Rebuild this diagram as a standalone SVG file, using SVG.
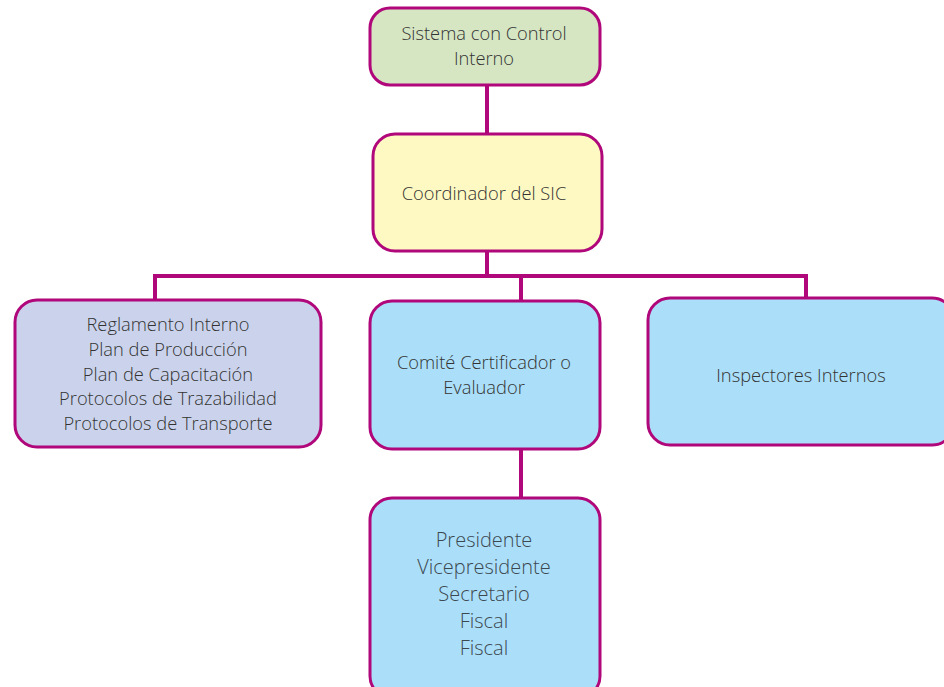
<svg xmlns="http://www.w3.org/2000/svg" width="944" height="687" viewBox="0 0 944 687">
<style>
.box{stroke:#b0077a;stroke-width:3}
.t{font-family:"Open Sans","Noto Sans",sans-serif;font-weight:300;font-size:18.3px;fill:#333333;text-anchor:middle}
.tb{font-size:20px;fill:#3c4850}
.c{stroke:#b0077a;stroke-width:4;fill:none}
</style>
<rect width="944" height="687" fill="#ffffff"/>
<g id="connectors">
<line class="c" x1="487" y1="85" x2="487" y2="134"/>
<line class="c" x1="487" y1="251" x2="487" y2="276"/>
<polyline class="c" points="155,300 155,276 806,276 806,298"/>
<line class="c" x1="521" y1="276" x2="521" y2="301"/>
<line class="c" x1="521" y1="449" x2="521" y2="498"/>
</g>
<g id="n-sistema">
<rect class="box" x="370" y="8" width="230" height="77" rx="20" fill="#d6e6c3"/>
<text class="t" x="484" y="40">Sistema con Control</text>
<text class="t" x="484" y="65">Interno</text>
</g>
<g id="n-coordinador">
<rect class="box" x="373" y="134" width="229" height="117" rx="22" fill="#fef8c2"/>
<text class="t" x="484" y="200">Coordinador del SIC</text>
</g>
<g id="n-reglamento">
<rect class="box" x="15" y="300" width="306" height="147" rx="22" fill="#cbd3ec"/>
<text class="t" x="168" y="331">Reglamento Interno</text>
<text class="t" x="168" y="356">Plan de Producción</text>
<text class="t" x="168" y="381">Plan de Capacitación</text>
<text class="t" x="168" y="405">Protocolos de Trazabilidad</text>
<text class="t" x="168" y="430">Protocolos de Transporte</text>
</g>
<g id="n-comite">
<rect class="box" x="370" y="301" width="230" height="148" rx="22" fill="#abdff9"/>
<text class="t" x="484" y="369">Comité Certificador o</text>
<text class="t" x="484" y="394">Evaluador</text>
</g>
<g id="n-inspectores">
<rect class="box" x="648" y="298" width="306" height="147" rx="22" fill="#abdff9"/>
<text class="t" x="801" y="382" fill="#3c4850">Inspectores Internos</text>
</g>
<g id="n-directiva">
<rect class="box" x="370" y="498" width="230" height="200" rx="22" fill="#abdff9"/>
<text class="t tb" x="484" y="547">Presidente</text>
<text class="t tb" x="484" y="574">Vicepresidente</text>
<text class="t tb" x="484" y="601">Secretario</text>
<text class="t tb" x="484" y="628">Fiscal</text>
<text class="t tb" x="484" y="655">Fiscal</text>
</g>
</svg>
